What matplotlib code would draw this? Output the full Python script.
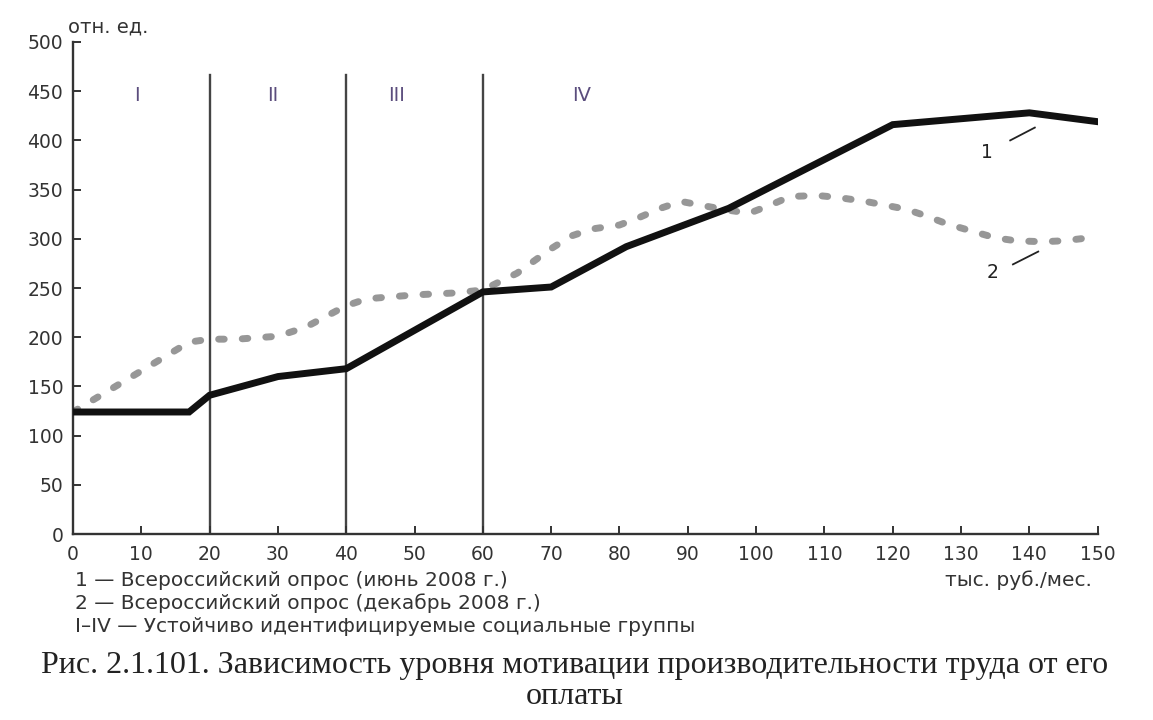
import matplotlib
matplotlib.use("Agg")
import matplotlib.pyplot as plt

# --- data ---
x_june = [0, 17, 20, 30, 40, 60, 70, 81, 96, 120, 140, 150]
y_june = [124, 124, 141, 160, 168, 246, 251, 292, 331, 416, 428, 419]

x_dec = [0, 17, 20, 24, 30, 34, 37, 40, 43, 50, 56, 60, 65, 70, 73, 76, 80, 83, 86, 89,
         92, 96, 99, 102, 105, 109, 112, 116, 119, 122, 125, 128, 132, 135, 138, 142, 145, 150]
y_dec = [124, 195, 198, 198, 201, 210, 221, 232, 239, 243, 245, 248, 265, 290, 303, 310, 314, 322, 331, 338,
         334, 329, 326, 334, 343, 344, 342, 338, 334, 330, 323, 315, 307, 301, 298, 297, 298, 302]

group_bounds = [20, 40, 60]
group_labels = ["I", "II", "III", "IV"]
group_label_x = [9.4, 29.3, 47.4, 74.4]
x_ticks = list(range(0, 151, 10))
y_ticks = list(range(0, 501, 50))

legend_lines = ["1 — Всероссийский опрос (июнь 2008 г.)",
                "2 — Всероссийский опрос (декабрь 2008 г.)",
                "I–IV — Устойчиво идентифицируемые социальные группы"]
caption = ["Рис. 2.1.101. Зависимость уровня мотивации производительности труда от его",
           "оплаты"]

plt.rcParams['font.family'] = ['DejaVu Sans']

fig = plt.figure(figsize=(11.53, 7.2), dpi=100)
ax = fig.add_axes([0.0633, 0.2583, 0.952 - 0.0633, 0.9417 - 0.2583])

for xb in group_bounds:
    ax.plot([xb, xb], [0, 466], color="#444444", lw=1.7, zorder=1)

ax.plot(x_dec, y_dec, color="#979797", lw=5, dashes=(0.8, 2.6),
        dash_capstyle='round', zorder=2)
ax.plot(x_june, y_june, color="#111111", lw=5, solid_joinstyle='miter', zorder=3)

for lab, lx in zip(group_labels, group_label_x):
    ax.text(lx, 446, lab, color="#5b4d7d", fontsize=14, ha="center", va="center")

# series labels with leader lines
ax.text(133.8, 388, "1", fontsize=13.5, color="#222222", ha="center", va="center")
ax.plot([137.2, 140.8], [400, 413], color="#222222", lw=1.3)
ax.text(134.6, 266, "2", fontsize=13.5, color="#222222", ha="center", va="center")
ax.plot([137.6, 141.3], [274, 287], color="#222222", lw=1.3)

ax.set_xlim(0, 150)
ax.set_ylim(0, 500)
ax.set_xticks(x_ticks)
ax.set_yticks(y_ticks)
for s in ["top", "right"]:
    ax.spines[s].set_visible(False)
for s in ["left", "bottom"]:
    ax.spines[s].set_color("#333333")
    ax.spines[s].set_linewidth(1.7)
ax.tick_params(direction="in", length=6, width=1.4, color="#333333",
               labelsize=13.5, labelcolor="#333333")
ax.tick_params(axis="y", pad=7)
ax.tick_params(axis="x", pad=8)
ax.set_facecolor("white")

fig.text(68 / 1153, 1 - 27 / 720, "отн. ед.", fontsize=14, color="#333333",
         ha="left", va="center")
fig.text(1092 / 1153, 1 - 580 / 720, "тыс. руб./мес.", fontsize=14.5, color="#333333",
         ha="right", va="center")
for i, t in enumerate(legend_lines):
    fig.text(75 / 1153, 1 - (580 + 23 * i) / 720, t, fontsize=14.5, color="#333333",
             ha="left", va="center")
fig.text(575 / 1153, 1 - 666 / 720, caption[0], fontsize=23, family=['Liberation Serif'],
         color="#222222", ha="center", va="center")
fig.text(575 / 1153, 1 - 697 / 720, caption[1], fontsize=23, family=['Liberation Serif'],
         color="#222222", ha="center", va="center")

fig.savefig("out.png", dpi=100, facecolor="white")
